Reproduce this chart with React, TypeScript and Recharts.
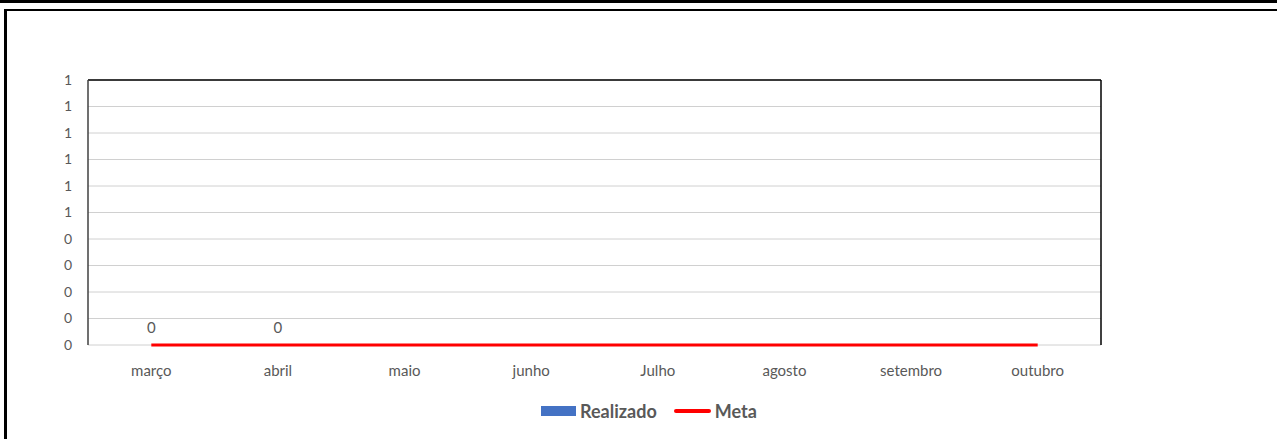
import React from 'react';
import {
  ComposedChart,
  Bar,
  Line,
  XAxis,
  YAxis,
  CartesianGrid,
  LabelList,
} from 'recharts';

// categories and series
const months = ['março', 'abril', 'maio', 'junho', 'Julho', 'agosto', 'setembro', 'outubro'];
const realizado: (number | null)[] = [0, 0, null, null, null, null, null, null];
const meta = [0, 0, 0, 0, 0, 0, 0, 0];
const yTicks = [0, 0.1, 0.2, 0.3, 0.4, 0.5, 0.6, 0.7, 0.8, 0.9, 1];

const data = months.map((m, i) => ({ month: m, realizado: realizado[i], meta: meta[i] }));

const BLUE = '#4472c4';
const RED = '#ff0000';
const TEXT = '#595959';
const FONT = 'Lato, "Noto Sans", sans-serif';

const App: React.FC = () => {
  return (
    <div style={{ position: 'fixed', left: 0, top: 0, width: 1277, height: 439, background: '#fff', fontFamily: FONT }}>
      {/* outer frame */}
      <div style={{ position: 'absolute', left: 0, top: 0, width: 1277, height: 3, background: '#000' }} />
      <div
        style={{
          position: 'absolute',
          left: 4,
          top: 9,
          width: 1290,
          height: 450,
          borderTop: '2px solid #000',
          borderLeft: '3px solid #000',
          boxSizing: 'border-box',
        }}
      />
      <div style={{ position: 'absolute', left: 0, top: 0 }}>
        <ComposedChart
          width={1277}
          height={439}
          data={data}
          margin={{ top: 79, right: 175, left: 8, bottom: 0 }}
        >
          {/* grid line at 0 doubles as the base axis, so the red line stays on top */}
          <CartesianGrid vertical={false} stroke="#d0d0d0" strokeWidth={1} />
          <XAxis
            dataKey="month"
            tickLine={false}
            axisLine={false}
            tick={{ fill: TEXT, fontSize: 15, fontFamily: FONT }}
            tickMargin={14}
            height={94}
          />
          <XAxis
            xAxisId="top"
            orientation="top"
            dataKey="month"
            tick={false}
            tickLine={false}
            axisLine={{ stroke: '#000', strokeWidth: 1.5 }}
            height={1}
          />
          <YAxis
            domain={[0, 1]}
            ticks={yTicks}
            interval={0}
            tickFormatter={(v: number) => String(Math.round(v))}
            tickLine={false}
            axisLine={{ stroke: '#404040', strokeWidth: 1.5 }}
            tick={{ fill: TEXT, fontSize: 14, fontFamily: FONT }}
            tickMargin={10}
            width={80}
          />
          <YAxis
            yAxisId="right"
            orientation="right"
            domain={[0, 1]}
            tick={false}
            tickLine={false}
            axisLine={{ stroke: '#000', strokeWidth: 1.5 }}
            width={1}
          />
          <Bar dataKey="realizado" fill={BLUE} barSize={60} isAnimationActive={false} />
          <Line
            type="linear"
            dataKey="meta"
            stroke={RED}
            strokeWidth={3}
            dot={false}
            activeDot={false}
            isAnimationActive={false}
          />
          {/* carries the data labels of Realizado (zero-height bars draw none) */}
          <Line
            dataKey="realizado"
            stroke="none"
            dot={false}
            activeDot={false}
            legendType="none"
            isAnimationActive={false}
          >
            <LabelList
              dataKey="realizado"
              position="top"
              offset={12}
              fill={TEXT}
              fontSize={15}
              fontFamily={FONT}
              formatter={(v: any) => (v === null || v === undefined ? '' : String(v))}
            />
          </Line>
        </ComposedChart>
      </div>
      {/* legend */}
      <div
        style={{
          position: 'absolute',
          left: 541,
          top: 400,
          display: 'flex',
          alignItems: 'center',
          fontSize: 18,
          fontWeight: 700,
          color: TEXT,
          fontFamily: FONT,
        }}
      >
        <span style={{ display: 'inline-block', width: 35, height: 10, background: BLUE, marginRight: 4 }} />
        <span>Realizado</span>
        <span style={{ display: 'inline-block', width: 37, height: 4, borderRadius: 2, background: RED, margin: '0 4px 0 17px' }} />
        <span>Meta</span>
      </div>
    </div>
  );
};

export default App;
